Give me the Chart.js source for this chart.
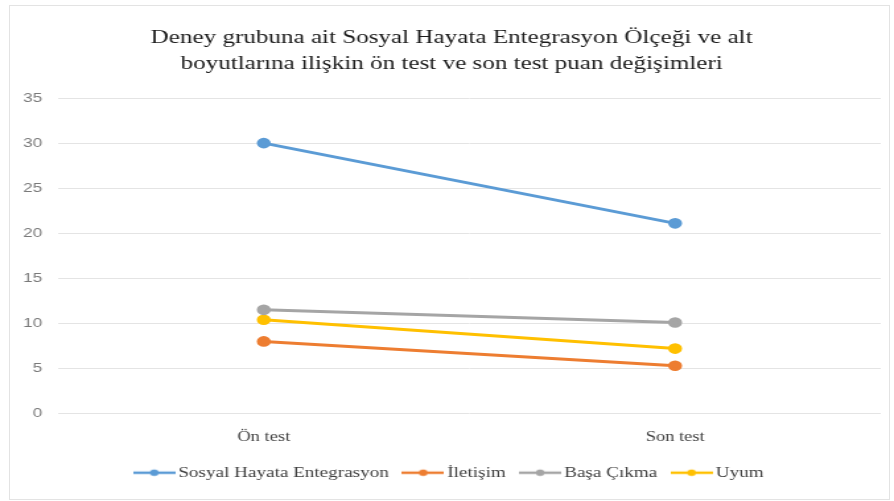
<!DOCTYPE html>
<html>
<head>
<meta charset="utf-8">
<script src="https://cdn.jsdelivr.net/npm/chart.js@4.4.0/dist/chart.umd.min.js"></script>
<style>
  html, body { margin: 0; padding: 0; background: #ffffff; overflow: hidden; }
  #wrap { position: relative; width: 894px; height: 501px; }
  /* the original picture is stretched sideways, so the chart is drawn narrower and stretched back */
  #graphCanvas { position: absolute; left: 0; top: 0; transform: scaleX(1.3205); transform-origin: 0 0; }
  #frame { position: absolute; left: 9px; top: 5px; width: 879px; height: 493px; border: 1px solid #e3e3e3; pointer-events: none; }
</style>
</head>
<body>
<div id="wrap">
  <canvas id="graphCanvas" width="677" height="501" style="width:677px;height:501px"></canvas>
  <div id="frame"></div>
</div>
<script>
const categories = ['Ön test', 'Son test'];
const seriesNames = ['Sosyal Hayata Entegrasyon', 'İletişim', 'Başa Çıkma', 'Uyum'];
const sosyal = [30.0, 21.1];
const iletisim = [8.0, 5.3];
const basaCikma = [11.5, 10.1];
const uyum = [10.4, 7.2];
const yTicks = [0, 5, 10, 15, 20, 25, 30, 35];
const colors = ['#5b9bd5', '#ed7d31', '#a5a5a5', '#ffc000'];

const serif = "'Liberation Serif', 'Times New Roman', serif";
const sans = "'Liberation Sans', Arial, sans-serif";

// legend marker: short line with a dot in the middle, like Excel
const makeMarker = (color) => {
  const c = document.createElement('canvas');
  c.width = 32;
  c.height = 10;
  const g = c.getContext('2d');
  g.strokeStyle = color;
  g.lineWidth = 2.5;
  g.beginPath();
  g.moveTo(0, 5);
  g.lineTo(32, 5);
  g.stroke();
  g.fillStyle = color;
  g.beginPath();
  g.arc(16, 5, 3.2, 0, Math.PI * 2);
  g.fill();
  return c;
};

const allSeries = [sosyal, iletisim, basaCikma, uyum];
const datasets = allSeries.map((values, i) => ({
  label: seriesNames[i],
  data: values,
  borderColor: colors[i],
  backgroundColor: colors[i],
  borderWidth: 3,
  pointRadius: 3.8,
  pointBackgroundColor: colors[i],
  pointBorderColor: colors[i],
  tension: 0,
}));

const ctx = document.getElementById('graphCanvas').getContext('2d');
new Chart(ctx, {
  type: 'line',
  data: { labels: categories, datasets: datasets },
  options: {
    responsive: false,
    animation: false,
    layout: { padding: { left: 17, right: 10, top: 22, bottom: 11 } },
    plugins: {
      title: {
        display: true,
        text: ['Deney grubuna ait Sosyal Hayata Entegrasyon Ölçeği ve alt', 'boyutlarına ilişkin ön test ve son test puan değişimleri'],
        color: '#1a1a1a',
        font: { family: serif, size: 19, weight: 'normal', lineHeight: 1.37 },
        padding: { top: 3, bottom: 21 },
      },
      legend: {
        position: 'bottom',
        labels: {
          usePointStyle: true,
          pointStyleWidth: 22,
          padding: 15,
          color: '#404040',
          font: { family: serif, size: 14.5 },
          generateLabels: (chart) => chart.data.datasets.map((ds, i) => ({
            text: ds.label,
            pointStyle: makeMarker(colors[i]),
            fontColor: '#404040',
            fillStyle: colors[i],
            strokeStyle: colors[i],
            lineWidth: 0,
            hidden: false,
            datasetIndex: i,
          })),
        },
      },
      tooltip: { enabled: false },
    },
    scales: {
      x: {
        offset: true,
        afterFit: (scale) => { scale.height = 37; },
        grid: { display: false, drawTicks: false },
        border: { display: false },
        ticks: {
          color: '#404040',
          padding: 15,
          font: { family: serif, size: 14 },
        },
      },
      y: {
        min: 0,
        max: 35,
        afterBuildTicks: (scale) => { scale.ticks = yTicks.map((v) => ({ value: v })); },
        afterFit: (scale) => { scale.width = 27; },
        grid: { color: '#e4e4e4', lineWidth: 1, drawTicks: false },
        border: { display: false },
        ticks: {
          color: '#7a7a7a',
          padding: 12,
          font: { family: sans, size: 13 },
        },
      },
    },
  },
});
</script>
</body>
</html>
